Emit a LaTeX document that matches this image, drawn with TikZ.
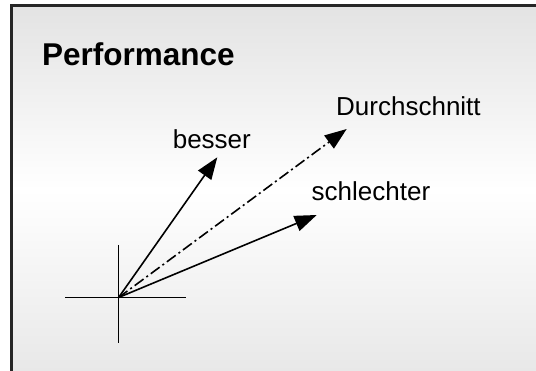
\documentclass[tikz,border=0pt]{standalone}
\usepackage{fontspec}
\setmainfont{Liberation Sans}
\usetikzlibrary{arrows.meta}

\begin{document}
\begin{tikzpicture}[x=1pt,y=-1pt,
	vec/.style={line width=1.6pt,-{Triangle[length=22pt,width=16pt]}},
	lbl/.style={anchor=base west,inner sep=0pt,font=\fontsize{26}{30}\selectfont}]
	%fix the size
	\useasboundingbox (0,0) rectangle (536,371);
	%draw background
	\shade[top color=black!11,bottom color=white] (11.5,5.5) rectangle (536,190);
	\shade[top color=white,bottom color=black!9] (11.5,189.5) rectangle (536,371);
	\draw[line width=2.2pt,black!85] (11.5,371) -- (11.5,5.5) -- (536,5.5);
	%draw title
	\node[anchor=base west,inner sep=0pt,font=\bfseries\fontsize{31.5}{36}\selectfont] (title) at (42,66) {Performance};
	%draw axes
	\coordinate (o) at (118.6,297.5);
	\draw[line width=1.6pt] (65,297.5) -- (185.7,297.5);
	\draw[line width=1.6pt] (118.6,245) -- (118.6,343.3);
	%draw arrows
	\coordinate (besser tip) at (217.3,157.3);
	\coordinate (mittel tip) at (346.7,129);
	\coordinate (schlecht tip) at (316.7,215);
	\draw[vec] (o) -- (besser tip);
	\draw[vec,dash pattern=on 11pt off 3.5pt on 2pt off 3.5pt] (o) -- (mittel tip);
	\draw[vec] (o) -- (schlecht tip);
	%draw labels
	\node[lbl] (besser) at (172.6,148.3) {besser};
	\node[lbl] (mittel) at (336,116) {Durchschnitt};
	\node[lbl] (schlecht) at (311.5,201) {schlechter};
\end{tikzpicture}
\end{document}
